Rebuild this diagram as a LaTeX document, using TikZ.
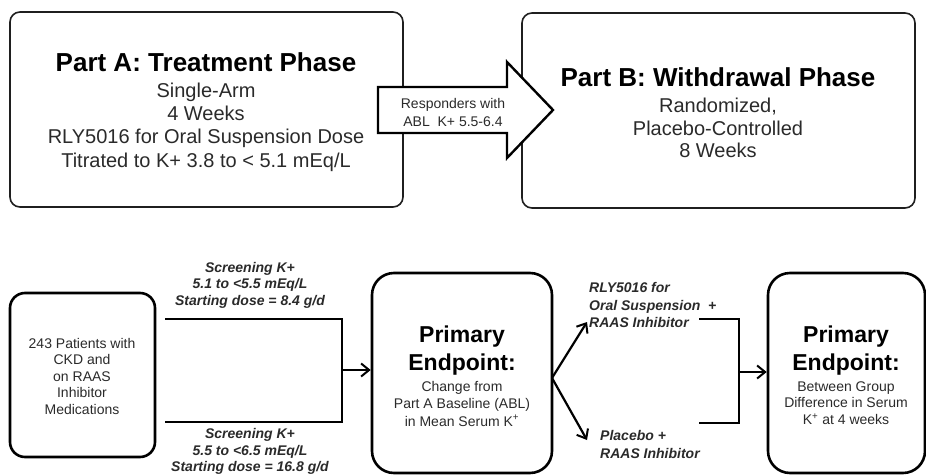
\documentclass[tikz,border=0pt]{standalone}
\usepackage{fontspec}
\setmainfont{Liberation Sans}
\usetikzlibrary{arrows.meta}
\newcommand\fsz[2]{\fontsize{#1}{#2}\selectfont}
\definecolor{txtgray}{HTML}{2A2A2A}
\begin{document}
\begin{tikzpicture}[x=1pt,y=-1pt,
  topbox/.style={draw=black!88, line width=1.6pt, rounded corners=10pt, inner sep=0pt},
  botbox/.style={draw=black, line width=2.6pt, inner sep=0pt},
  bigtitle/.style={font=\fsz{26}{29}\bfseries, text=black, inner sep=0pt, anchor=base},
  toptext/.style={font=\fsz{20}{23.3}, text=txtgray, align=center, inner sep=0pt},
  smalltext/.style={font=\fsz{14}{17}, text=txtgray, align=center, inner sep=0pt},
  primtitle/.style={font=\fsz{23}{28}\bfseries, text=black, align=center, inner sep=0pt},
  armtext/.style={font=\fsz{14}{16.5}\bfseries\itshape, text=txtgray, inner sep=0pt},
  wire/.style={draw=black, line width=2.2pt},
  arr/.style={wire, -{Straight Barb[length=8pt,width=13pt,line width=2pt]}}
]
\useasboundingbox (0,0) rectangle (926,474);

% ---------- top row ----------
\node[topbox, minimum width=393pt, minimum height=195pt] (partA) at (206.5,109.5) {};
\node[topbox, minimum width=393pt, minimum height=195pt] (partB) at (718.5,110.5) {};

\node[bigtitle] (partAtitle) at (206,71) {Part A: Treatment Phase};
\node[toptext] (partAbody) at (206,127) {Single-Arm\\4 Weeks\\RLY5016 for Oral Suspension Dose\\Titrated to K+ 3.8 to < 5.1 mEq/L};

\node[bigtitle] (partBtitle) at (718,86) {Part B: Withdrawal Phase};
\node[toptext, font=\fsz{20}{22.5}] (partBbody) at (718,128) {Randomized,\\Placebo-Controlled\\8 Weeks};

% block arrow
\coordinate (ba1) at (378,87);
\coordinate (ba2) at (507,87);
\coordinate (ba3) at (507,62);
\coordinate (batip) at (553,110);
\coordinate (ba5) at (507,158);
\coordinate (ba6) at (507,133);
\coordinate (ba7) at (378,133);
\draw[line width=2.4pt, fill=white, line join=miter, draw=black]
  (ba1) -- (ba2) -- (ba3) -- (batip) -- (ba5) -- (ba6) -- (ba7) -- cycle;
\node[smalltext, font=\fsz{14}{18}] (resp) at (453,112) {Responders with\\ABL\ \ K+ 5.5-6.4};

% ---------- bottom row ----------
\node[botbox, rounded corners=15pt, minimum width=145pt, minimum height=164pt] (pat) at (82.5,375) {};
\node[smalltext, font=\fsz{14}{16.5}] (pattxt) at (82,376) {243 Patients with\\CKD and\\on RAAS\\Inhibitor\\Medications};

\node[botbox, rounded corners=22pt, minimum width=180pt, minimum height=200pt] (p1) at (462,373) {};
\node[primtitle] (p1title) at (462,350.5) {Primary\\Endpoint:};
\node[smalltext, font=\fsz{14}{17.5}] (p1body) at (462,403.5) {Change from\\Part A Baseline (ABL)\\in Mean Serum K\textsuperscript{+}};

\node[botbox, rounded corners=22pt, minimum width=157pt, minimum height=200pt] (p2) at (846.5,373) {};
\node[primtitle] (p2title) at (846,350.5) {Primary\\Endpoint:};
\node[smalltext, font=\fsz{14}{16.5}] (p2body) at (846,403) {Between Group\\Difference in Serum\\K\textsuperscript{+} at 4 weeks};

% screening labels
\node[armtext, align=center] (scrA) at (250,285) {Screening K+\\5.1 to <5.5 mEq/L\\Starting dose = 8.4 g/d};
\node[armtext, align=center] (scrB) at (250,451.5) {Screening K+\\5.5 to <6.5 mEq/L\\Starting dose = 16.8 g/d};

% bracket 1
\coordinate (b1tl) at (165,319);
\coordinate (b1tr) at (342,319);
\coordinate (b1br) at (342,422);
\coordinate (b1bl) at (165,422);
\coordinate (b1mid) at (342,370);
\draw[wire, line join=miter] (b1tl) -- (b1tr) -- (b1br) -- (b1bl);
\draw[arr] (b1mid) -- (p1.west |- b1mid);

% arms
\node[armtext, align=left, anchor=west, font=\fsz{14}{17.5}\bfseries\itshape] (armR) at (589,305) {RLY5016 for\\Oral Suspension\ \ +\\RAAS Inhibitor};
\node[armtext, align=left, anchor=west, font=\fsz{14}{18}\bfseries\itshape] (armP) at (600,444) {Placebo +\\RAAS Inhibitor};

\coordinate (split) at (552,378);
\coordinate (tipR) at (587,322);
\coordinate (tipP) at (587,440);
\draw[arr] (split) -- (tipR);
\draw[arr] (split) -- (tipP);

% bracket 2
\coordinate (b2tl) at (699,319);
\coordinate (b2tr) at (739,319);
\coordinate (b2br) at (739,423);
\coordinate (b2bl) at (699,423);
\coordinate (b2mid) at (739,372);
\draw[wire, line join=miter] (b2tl) -- (b2tr) -- (b2br) -- (b2bl);
\draw[arr] (b2mid) -- (p2.west |- b2mid);
\end{tikzpicture}
\end{document}
